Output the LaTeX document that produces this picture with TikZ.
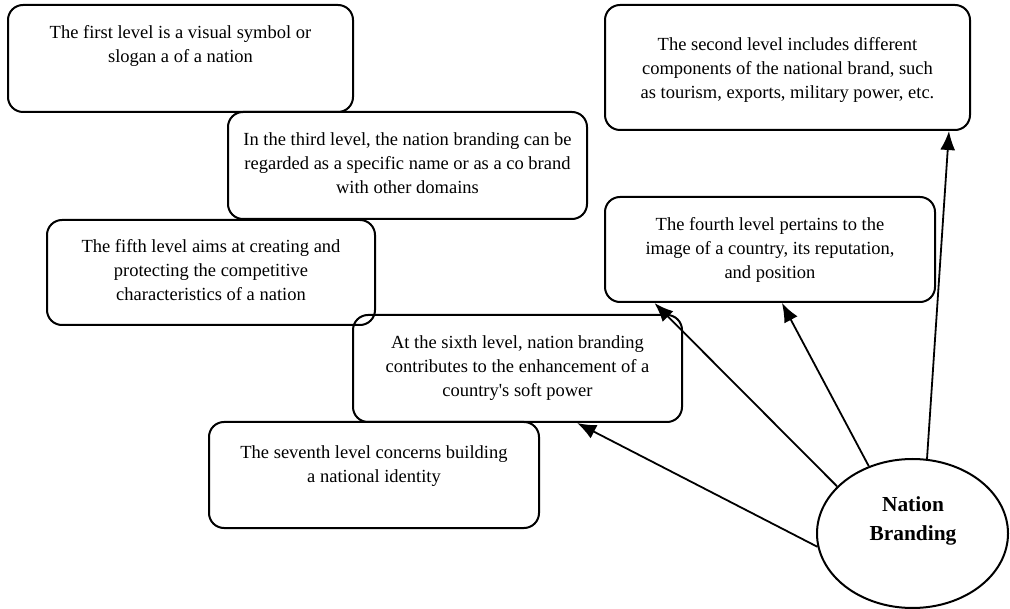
\documentclass[tikz,border=0pt]{standalone}
\usepackage{fontspec}
\setmainfont{Liberation Serif}
\usetikzlibrary{arrows.meta,calc,shapes.geometric}
\newcommand{\lvltxt}[4]{\begin{minipage}[c][#2pt][t]{#1pt}\centering\fontsize{18.5}{24}\selectfont\vspace*{#3pt}\strut #4\end{minipage}}
\tikzset{
  lvlbox/.style={draw, line width=2pt, rounded corners=15pt, inner sep=0pt, rectangle},
  conn/.style={line width=1.8pt, -{Latex[length=19pt,width=15pt]}},
  hub/.style={draw, ellipse, line width=2pt, minimum width=191pt, minimum height=149pt, inner sep=0pt}
}
\begin{document}
\begin{tikzpicture}[x=1pt,y=-1pt]
\useasboundingbox (0,0) rectangle (1010,609);
\node[lvlbox] (b1) at (180.5,58.5) {\lvltxt{345}{107}{17}{The first level is a visual symbol or\\slogan a of a nation}};
\node[lvlbox] (b2) at (787.5,67.5) {\lvltxt{365}{125}{29}{The second level includes different\\components of the national brand, such\\as tourism, exports, military power, etc.}};
\node[lvlbox] (b3) at (407.5,165.5) {\lvltxt{359}{107}{17}{In the third level, the nation branding can be\\regarded as a specific name or as a co brand\\with other domains}};
\node[lvlbox] (b4) at (770,249.5) {\lvltxt{330}{105}{17}{The fourth level pertains to the\\image of a country, its reputation,\\and position}};
\node[lvlbox] (b5) at (211,272.5) {\lvltxt{328}{105}{16}{The fifth level aims at creating and\\protecting the competitive\\characteristics of a nation}};
\node[lvlbox] (b6) at (517.5,368.5) {\lvltxt{329}{107}{17}{At the sixth level, nation branding\\contributes to the enhancement of a\\country\textquotesingle s soft power}};
\node[lvlbox] (b7) at (374,475) {\lvltxt{330}{106}{20}{The seventh level concerns building\\a national identity}};
\node[hub] (nb) at (912.5,533.5) {};
\node[font={\fontsize{21.4}{29}\selectfont\bfseries}, align=center] (nbt) at (913,521) {Nation\\Branding};
\draw[conn] (nb.79) -- ($(b2.south west)!0.94!(b2.south east)$);
\draw[conn] (nb.123.6) -- ($(b4.south west)!0.536!(b4.south east)$);
\draw[conn] (nb.148.4) -- ($(b4.south west)!0.152!(b4.south east)$);
\draw[conn] (nb.188) -- ($(b6.south west)!0.68!(b6.south east)$);
\end{tikzpicture}
\end{document}
